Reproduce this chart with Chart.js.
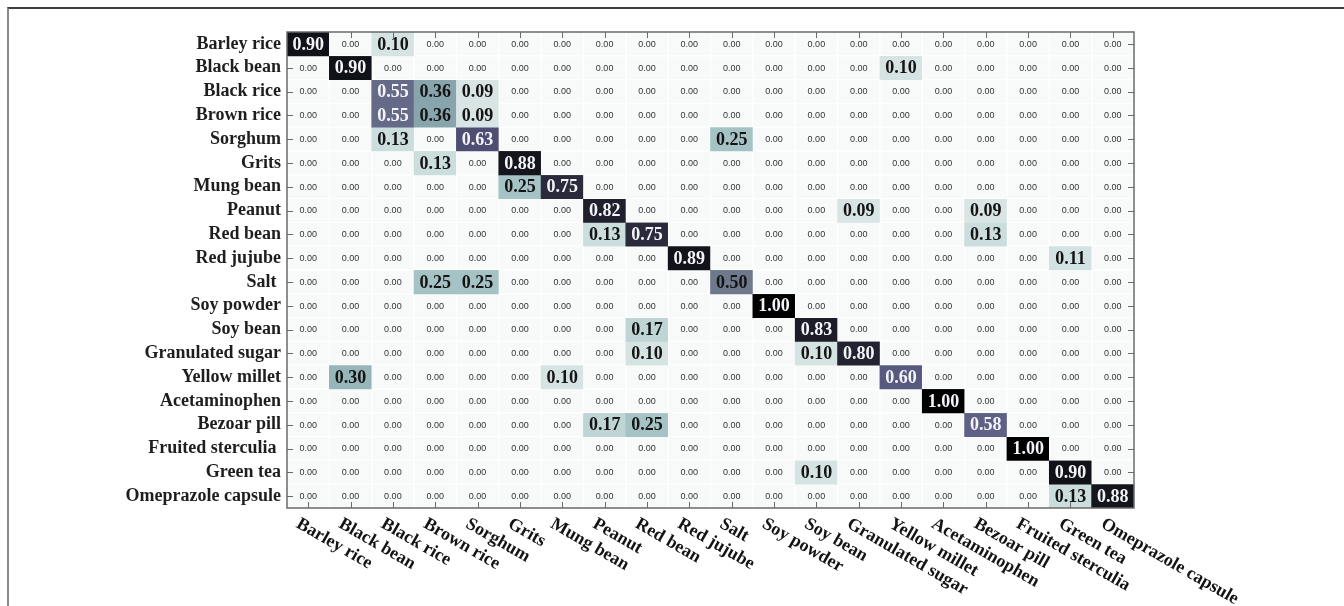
<!DOCTYPE html>
<html>
<head>
<meta charset="utf-8">
<script src="https://cdn.jsdelivr.net/npm/chart.js@4/dist/chart.umd.min.js"></script>
<style>
  html, body { margin: 0; padding: 0; background: #fff; }
  #wrap { position: relative; width: 1344px; height: 606px; overflow: hidden; }
  #wrap canvas { position: absolute; left: 0; top: 0; }
  #frame {
    position: absolute; left: 7px; top: 7px; right: -4px; bottom: -4px;
    border-top: 2px solid #3e3e3e; border-left: 2px solid #8a8a8a;
    pointer-events: none;
  }
</style>
</head>
<body>
<div id="wrap">
  <canvas id="cm" width="1344" height="606"></canvas>
  <div id="frame"></div>
</div>
<script>
// Class names: rows are the true class, columns the predicted class
const rowLabels = [
  'Barley rice', 'Black bean', 'Black rice', 'Brown rice', 'Sorghum', 'Grits',
  'Mung bean', 'Peanut', 'Red bean', 'Red jujube', 'Salt ', 'Soy powder',
  'Soy bean', 'Granulated sugar', 'Yellow millet', 'Acetaminophen',
  'Bezoar pill', 'Fruited sterculia ', 'Green tea', 'Omeprazole capsule'
];
const colLabels = [
  'Barley rice', 'Black bean', 'Black rice', 'Brown rice', 'Sorghum', 'Grits',
  'Mung bean', 'Peanut', 'Red bean', 'Red jujube', 'Salt', 'Soy powder',
  'Soy bean', 'Granulated sugar', 'Yellow millet', 'Acetaminophen',
  'Bezoar pill', 'Fruited sterculia', 'Green tea', 'Omeprazole capsule'
];

// Normalised confusion rates, one row per true class
const rates = [
  [0.90,0,0.10,0,0,0,0,0,0,0,0,0,0,0,0,0,0,0,0,0],
  [0,0.90,0,0,0,0,0,0,0,0,0,0,0,0,0.10,0,0,0,0,0],
  [0,0,0.55,0.36,0.09,0,0,0,0,0,0,0,0,0,0,0,0,0,0,0],
  [0,0,0.55,0.36,0.09,0,0,0,0,0,0,0,0,0,0,0,0,0,0,0],
  [0,0,0.13,0,0.63,0,0,0,0,0,0.25,0,0,0,0,0,0,0,0,0],
  [0,0,0,0.13,0,0.88,0,0,0,0,0,0,0,0,0,0,0,0,0,0],
  [0,0,0,0,0,0.25,0.75,0,0,0,0,0,0,0,0,0,0,0,0,0],
  [0,0,0,0,0,0,0,0.82,0,0,0,0,0,0.09,0,0,0.09,0,0,0],
  [0,0,0,0,0,0,0,0.13,0.75,0,0,0,0,0,0,0,0.13,0,0,0],
  [0,0,0,0,0,0,0,0,0,0.89,0,0,0,0,0,0,0,0,0.11,0],
  [0,0,0,0.25,0.25,0,0,0,0,0,0.50,0,0,0,0,0,0,0,0,0],
  [0,0,0,0,0,0,0,0,0,0,0,1.00,0,0,0,0,0,0,0,0],
  [0,0,0,0,0,0,0,0,0.17,0,0,0,0.83,0,0,0,0,0,0,0],
  [0,0,0,0,0,0,0,0,0.10,0,0,0,0.10,0.80,0,0,0,0,0,0],
  [0,0.30,0,0,0,0,0.10,0,0,0,0,0,0,0,0.60,0,0,0,0,0],
  [0,0,0,0,0,0,0,0,0,0,0,0,0,0,0,1.00,0,0,0,0],
  [0,0,0,0,0,0,0,0.17,0.25,0,0,0,0,0,0,0,0.58,0,0,0],
  [0,0,0,0,0,0,0,0,0,0,0,0,0,0,0,0,0,1.00,0,0],
  [0,0,0,0,0,0,0,0,0,0,0,0,0.10,0,0,0,0,0,0.90,0],
  [0,0,0,0,0,0,0,0,0,0,0,0,0,0,0,0,0,0,0.13,0.88]
];

// Colour ramp: pale grey-teal through slate to black
const rampStops = [
  [0.00, [248, 249, 249]],
  [0.09, [217, 229, 229]],
  [0.13, [203, 221, 221]],
  [0.25, [165, 195, 197]],
  [0.30, [151, 182, 186]],
  [0.36, [136, 164, 173]],
  [0.50, [111, 121, 140]],
  [0.58, [94, 97, 133]],
  [0.63, [78, 78, 115]],
  [0.75, [42, 42, 60]],
  [0.85, [26, 26, 38]],
  [1.00, [0, 0, 0]]
];
function cellColor(v) {
  for (let i = 1; i < rampStops.length; i++) {
    const [v1, c1] = rampStops[i];
    const [v0, c0] = rampStops[i - 1];
    if (v <= v1) {
      const t = (v - v0) / (v1 - v0 || 1);
      const c = c0.map((a, k) => Math.round(a + (c1[k] - a) * t));
      return `rgb(${c[0]},${c[1]},${c[2]})`;
    }
  }
  return 'rgb(0,0,0)';
}

const serif = "'Liberation Serif', 'Times New Roman', serif";
const sans = "'Liberation Sans', Arial, sans-serif";
const axisColor = '#6a6a6a';
const darkCell = 0.7; // tick marks are not visible on the darkest cells

// One floating-bar dataset per row; each bar spans its row band
const datasets = rowLabels.map((name, ri) => ({
  label: name,
  data: colLabels.map(() => [ri - 0.5, ri + 0.5]),
  backgroundColor: rates[ri].map(cellColor),
  borderColor: '#ffffff',
  borderWidth: rates[ri].map(v => (v === 0 ? 1 : 0)),
  borderSkipped: false,
  grouped: false,
  categoryPercentage: 1,
  barPercentage: 1
}));

// Cell values, frame, inward tick marks and slanted column names
const matrixDecor = {
  id: 'matrixDecor',
  afterDatasetsDraw(chart) {
    const ctx = chart.ctx;
    ctx.save();
    ctx.textAlign = 'center';
    ctx.textBaseline = 'middle';
    chart.data.datasets.forEach((ds, ri) => {
      const meta = chart.getDatasetMeta(ri);
      meta.data.forEach((bar, ci) => {
        const v = rates[ri][ci];
        const cy = (bar.y + bar.base) / 2;
        if (v === 0) {
          ctx.font = `9px ${sans}`;
          ctx.fillStyle = '#333333';
          ctx.fillText(v.toFixed(2), bar.x, cy + 0.5);
        } else {
          ctx.font = `bold 18px ${serif}`;
          ctx.fillStyle = v > 0.52 ? '#f4f4f8' : '#141414';
          ctx.fillText(v.toFixed(2), bar.x, cy + 1);
        }
      });
    });
    ctx.restore();
  },
  afterDraw(chart) {
    const ctx = chart.ctx;
    const { left, right, top, bottom } = chart.chartArea;
    const xs = chart.scales.x;
    const ys = chart.scales.y;
    const tick = 6;
    const last = rowLabels.length - 1;
    ctx.save();
    ctx.strokeStyle = axisColor;
    ctx.lineWidth = 1.5;
    ctx.strokeRect(left, top, right - left, bottom - top);
    ctx.lineWidth = 1;
    ctx.beginPath();
    colLabels.forEach((_, i) => {
      const x = Math.round(xs.getPixelForValue(i)) + 0.5;
      if (rates[0][i] < darkCell) { ctx.moveTo(x, top); ctx.lineTo(x, top + tick); }
      if (rates[last][i] < darkCell) { ctx.moveTo(x, bottom); ctx.lineTo(x, bottom - tick); }
    });
    rowLabels.forEach((_, i) => {
      const y = Math.round(ys.getPixelForValue(i)) + 0.5;
      if (rates[i][0] < darkCell) { ctx.moveTo(left, y); ctx.lineTo(left + tick, y); }
      if (rates[i][colLabels.length - 1] < darkCell) { ctx.moveTo(right, y); ctx.lineTo(right - tick, y); }
    });
    ctx.stroke();

    ctx.font = `bold 18px ${serif}`;
    ctx.fillStyle = '#141414';
    ctx.textAlign = 'left';
    ctx.textBaseline = 'top';
    colLabels.forEach((name, i) => {
      const x = xs.getPixelForValue(i);
      ctx.save();
      ctx.translate(x - 6, bottom + 7);
      ctx.rotate(30 * Math.PI / 180);
      ctx.fillText(name, 0, 0);
      ctx.restore();
    });
    ctx.restore();
  }
};

new Chart(document.getElementById('cm'), {
  type: 'bar',
  data: { labels: colLabels, datasets },
  options: {
    responsive: false,
    animation: false,
    events: [],
    layout: { padding: { left: 0, top: 32, right: 210, bottom: 0 } },
    plugins: { legend: { display: false }, tooltip: { enabled: false } },
    scales: {
      x: {
        type: 'category',
        position: 'bottom',
        offset: true,
        grid: { display: false, drawTicks: false },
        border: { display: false },
        ticks: { display: false },
        afterFit(scale) { scale.height = 98; }
      },
      y: {
        type: 'linear',
        min: -0.5,
        max: 19.5,
        reverse: true,
        grid: { display: false, drawTicks: false },
        border: { display: false },
        afterBuildTicks(scale) {
          scale.ticks = rowLabels.map((_, i) => ({ value: i }));
        },
        ticks: {
          autoSkip: false,
          padding: 6,
          color: '#1e1e1e',
          font: { family: serif, size: 18, weight: 'bold' },
          callback: (v) => rowLabels[v]
        },
        afterFit(scale) { scale.width = 287; }
      }
    }
  },
  plugins: [matrixDecor]
});
</script>
</body>
</html>
